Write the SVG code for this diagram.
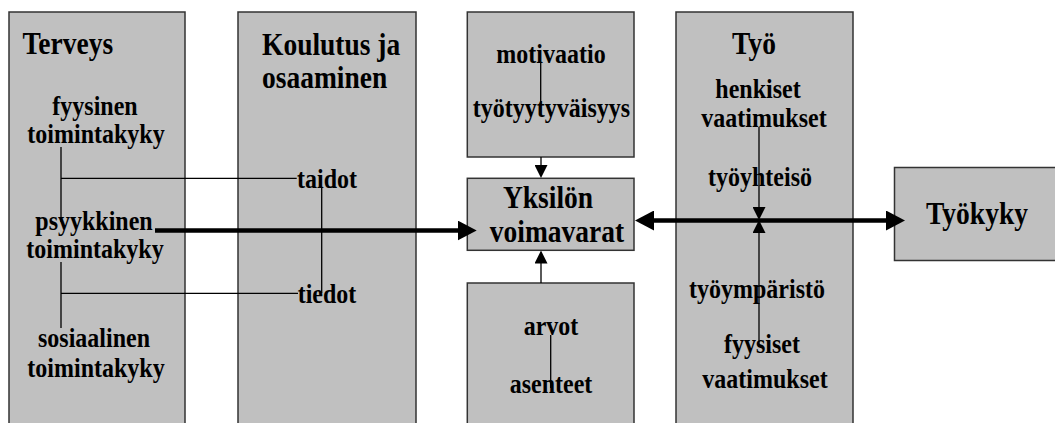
<svg xmlns="http://www.w3.org/2000/svg" width="1055" height="423" viewBox="0 0 1055 423">
<style>
.box{fill:#c0c0c0;stroke:#333;stroke-width:1.5}
.h{font-family:"Liberation Serif","Times New Roman",serif;font-weight:bold;font-size:27.5px;fill:#000}
.t{font-family:"Liberation Serif","Times New Roman",serif;font-weight:bold;font-size:24px;fill:#000}
.m{text-anchor:middle}
.thin{stroke:#000;stroke-width:1.3;fill:none}
.thick{stroke:#000;stroke-width:4.5;fill:none}
</style>
<defs>
<marker id="big" markerUnits="userSpaceOnUse" markerWidth="19" markerHeight="20" viewBox="0 0 19 20" refX="11" refY="10" orient="auto-start-reverse">
<path d="M0,0 L19,10 L0,20 z" fill="#000"/>
</marker>
<marker id="small" markerUnits="userSpaceOnUse" markerWidth="13" markerHeight="13" viewBox="0 0 13 13" refX="11" refY="6.5" orient="auto-start-reverse">
<path d="M0,0 L13,6.5 L0,13 z" fill="#000"/>
</marker>
</defs>
<g id="terveys">
<rect class="box" x="9" y="12" width="176" height="420"/>
<text class="h" transform="translate(22.5,54) scale(1,1.15)">Terveys</text>
<text class="t m" transform="translate(95,115) scale(1,1.15)">fyysinen</text>
<text class="t m" transform="translate(96,143) scale(1,1.15)">toimintakyky</text>
<text class="t m" transform="translate(94,230) scale(1,1.15)">psyykkinen</text>
<text class="t m" transform="translate(95,258) scale(1,1.15)">toimintakyky</text>
<text class="t m" transform="translate(94,347) scale(1,1.15)">sosiaalinen</text>
<text class="t m" transform="translate(96,377) scale(1,1.15)">toimintakyky</text>
</g>
<g id="koulutus">
<rect class="box" x="238" y="12" width="178" height="420"/>
<text class="h" transform="translate(262,55) scale(1,1.15)">Koulutus ja</text>
<text class="h" transform="translate(262,88) scale(1,1.15)">osaaminen</text>
<text class="t m" transform="translate(327,188) scale(1,1.15)">taidot</text>
<text class="t m" transform="translate(327,303) scale(1,1.15)">tiedot</text>
</g>
<g id="motivaatio">
<rect class="box" x="467.3" y="12" width="166.7" height="145"/>
<text class="t m" transform="translate(551,63) scale(1,1.15)">motivaatio</text>
<text class="t m" transform="translate(551.5,117) scale(1,1.15)">työtyytyväisyys</text>
</g>
<g id="yksilon">
<rect class="box" x="467.3" y="178.3" width="166.7" height="72"/>
<text class="h m" transform="translate(548,208) scale(1,1.15)">Yksilön</text>
<text class="h m" transform="translate(557,241.5) scale(1,1.15)">voimavarat</text>
</g>
<g id="arvot">
<rect class="box" x="467.3" y="283" width="166.7" height="150"/>
<text class="t m" transform="translate(551,335) scale(1,1.15)">arvot</text>
<text class="t m" transform="translate(551,393) scale(1,1.15)">asenteet</text>
</g>
<g id="tyo">
<rect class="box" x="676" y="12" width="177" height="420"/>
<text class="h m" transform="translate(754,54) scale(1,1.15)">Työ</text>
<text class="t m" transform="translate(758,97.5) scale(1,1.15)">henkiset</text>
<text class="t m" transform="translate(764,127) scale(1,1.15)">vaatimukset</text>
<text class="t m" transform="translate(760,186) scale(1,1.15)">työyhteisö</text>
<text class="t m" transform="translate(757,297.5) scale(1,1.15)">työympäristö</text>
<text class="t m" transform="translate(762,353) scale(1,1.15)">fyysiset</text>
<text class="t m" transform="translate(765,388) scale(1,1.15)">vaatimukset</text>
</g>
<g id="tyokyky">
<rect class="box" x="894.5" y="167.5" width="170" height="93"/>
<text class="h m" transform="translate(977,224) scale(1,1.15)">Työkyky</text>
</g>
<g id="connectors">
<path class="thin" d="M61,147 V222 M61,178.3 H296.7 M61,262 V328 M61,293.3 H298 M321.7,188 V293 M540.7,63 V105 M550.7,335 V388"/>
<path class="thin" d="M541,157 V176" marker-end="url(#small)"/>
<path class="thin" d="M541,283 V252.5" marker-end="url(#small)"/>
<path class="thin" d="M759,127 V218" marker-end="url(#small)"/>
<path class="thin" d="M759,347 V222" marker-end="url(#small)"/>
<path class="thick" d="M155,230.5 H468.7" marker-end="url(#big)"/>
<path class="thick" d="M643,220.5 H897" marker-start="url(#big)" marker-end="url(#big)"/>
</g>
</svg>
